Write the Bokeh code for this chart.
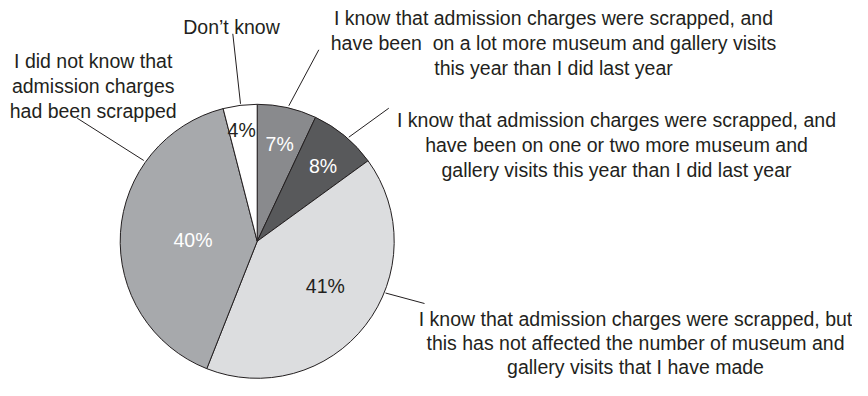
import math
from bokeh.plotting import figure
from bokeh.models import Range1d, ColumnDataSource
from bokeh.core.properties import value
from bokeh.embed import file_html
from bokeh.resources import INLINE

# ---- data ----
categories = [
    "I know that admission charges were scrapped, and\nhave been \u00a0on a lot more museum and gallery visits\nthis year than I did last year",
    "I know that admission charges were scrapped, and\nhave been on one or two more museum and\ngallery visits this year than I did last year",
    "I know that admission charges were scrapped, but\nthis has not affected the number of museum and\ngallery visits that I have made",
    "I did not know that\nadmission charges\nhad been scrapped",
    "Don\u2019t know",
]
shares = [7, 8, 41, 40, 4]
pct_labels = ["7%", "8%", "41%", "40%", "4%"]
slice_colors = ["#898a8d", "#58595b", "#dcdddf", "#a7a9ac", "#ffffff"]
pct_text_colors = ["#ffffff", "#ffffff", "#231f20", "#ffffff", "#231f20"]

# ---- layout (pixel coordinates from the top-left of the figure) ----
W, H = 852, 380
DY = -4.0  # small global lift so everything fits the 380px-high figure
def px(x):
    return x
def py(y):
    return H - (y + DY)

CX, CY, R = 256.7, 244.8, 137.0
# percentage label positions (center x, baseline y)
pct_pos = [(279.2, 147.7), (322.5, 169.3), (324.8, 289.0), (192.5, 243.0), (241.2, 133.3)]
# annotation blocks: center x, first baseline y
ann_pos = [(553, 21.7), (616, 123.3), (635, 322.0), (92.7, 64.0), (231, 30.7)]
LINE_H = 25.0
LINE_H3 = 24.0
# leader lines (outer end, pie end)
leaders = [((318.3, 53.3), (288.3, 109.3)),
           ((388.3, 111.7), (348.3, 140.7)),
           ((424.0, 307.0), (385.0, 296.5)),
           ((76.7, 121.7), (143.3, 164.0)),
           ((232.3, 37.3), (240.0, 107.3))]

FONT = value("Liberation Sans")
FSIZE = "19.5px"
TXT = "#231f20"

p = figure(width=W, height=H, output_backend="svg", toolbar_location=None,
           x_range=Range1d(0, W), y_range=Range1d(0, H), min_border=0)
p.axis.visible = False
p.grid.visible = False
p.outline_line_color = None
p.background_fill_color = "white"
p.border_fill_color = "white"

# wedges
total = float(sum(shares))
starts, ends = [], []
cum = 0.0
for s in shares:
    starts.append(math.pi / 2 - 2 * math.pi * cum / total)
    cum += s
    ends.append(math.pi / 2 - 2 * math.pi * cum / total)
src = ColumnDataSource(dict(start=starts, end=ends, color=slice_colors))
p.wedge(x=px(CX), y=py(CY), radius=R, start_angle="start", end_angle="end",
        direction="clock", fill_color="color", line_color=TXT, line_width=1, source=src)

# leader lines
p.segment(x0=[px(a[0]) for a, b in leaders], y0=[py(a[1]) for a, b in leaders],
          x1=[px(b[0]) for a, b in leaders], y1=[py(b[1]) for a, b in leaders],
          line_color=TXT, line_width=1)

# percentage labels
p.text(x=[px(x) for x, y in pct_pos], y=[py(y) for x, y in pct_pos], text=pct_labels,
       text_color=pct_text_colors, text_font=FONT, text_font_size=FSIZE,
       text_align="center", text_baseline="alphabetic")

# annotations
xs, ys, ts = [], [], []
for k, (cat, (ax, ay)) in enumerate(zip(categories, ann_pos)):
    lh = LINE_H3 if k == 2 else LINE_H
    for i, line in enumerate(cat.split("\n")):
        xs.append(px(ax))
        ys.append(py(ay + i * lh))
        ts.append(line)
p.text(x=xs, y=ys, text=ts, text_color=TXT, text_font=FONT, text_font_size=FSIZE,
       text_align="center", text_baseline="alphabetic")

open("out.html", "w").write(file_html(p, INLINE))
